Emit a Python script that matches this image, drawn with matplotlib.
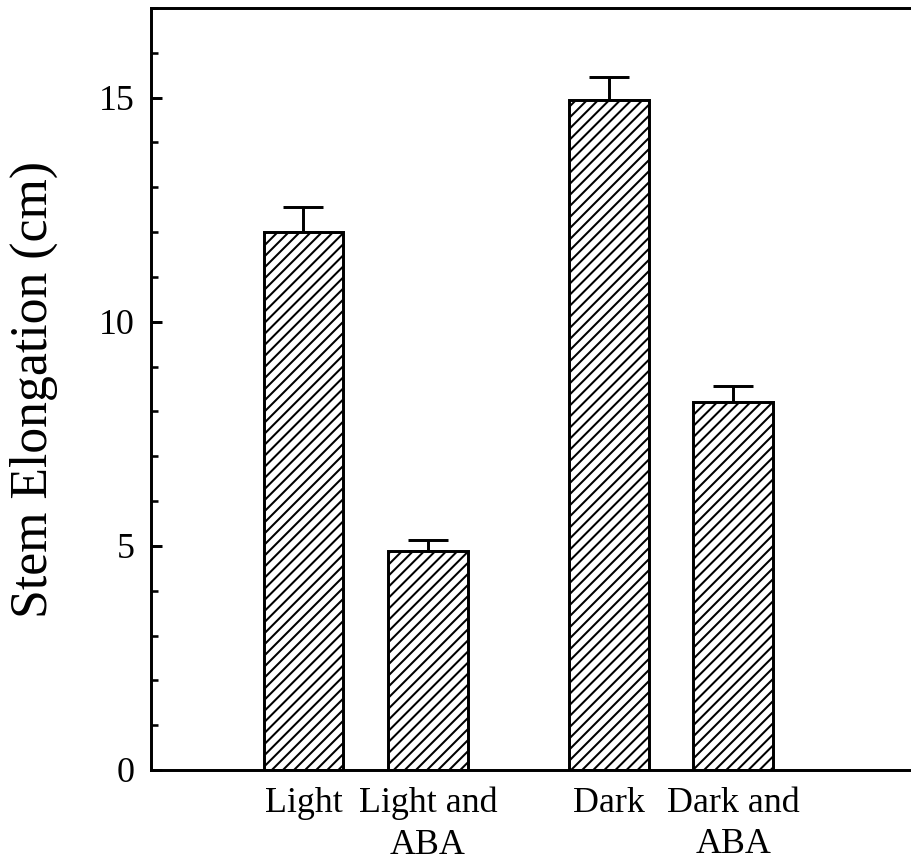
import matplotlib
matplotlib.use("Agg")
import matplotlib.pyplot as plt
from matplotlib.ticker import MultipleLocator

# data
labels = ["Light", "Light and\nABA", "Dark", "Dark and\nABA"]
values = [12.0, 4.88, 14.95, 8.2]
errors = [0.55, 0.25, 0.5, 0.36]
positions = [1, 2, 3.45, 4.45]

DPI = 133
plt.rcParams["font.family"] = ["Liberation Serif", "DejaVu Serif"]
plt.rcParams["hatch.linewidth"] = 1.1

fig = plt.figure(figsize=(911 / DPI, 867 / DPI), dpi=DPI)
ax = fig.add_axes([151 / 911, 1 - 770 / 867, 1 - 151 / 911 + 0.01, (770 - 8) / 867])

ax.bar(positions, values, width=0.64, color="white", edgecolor="black",
       linewidth=1.6, hatch="////", zorder=2)
ax.errorbar(positions, values, yerr=[[0] * len(errors), errors], fmt="none",
            ecolor="black", elinewidth=1.6, capsize=11, capthick=1.6, zorder=1)

ax.set_ylim(0, 17)
ax.set_xlim(-0.224, 5.95)
ax.yaxis.set_major_locator(MultipleLocator(5))
ax.yaxis.set_minor_locator(MultipleLocator(1))
ax.tick_params(axis="y", which="major", direction="in", length=6, width=1.6,
               labelsize=19.5, pad=9)
ax.tick_params(axis="y", which="minor", direction="in", length=4, width=1.4)
ax.set_xticks(positions)
ax.set_xticklabels(labels, linespacing=1.35)
ax.tick_params(axis="x", length=0, labelsize=19.5, pad=9)

for s in ["left", "bottom", "top"]:
    ax.spines[s].set_linewidth(1.6)
ax.spines["right"].set_visible(False)

ax.set_ylabel("Stem Elongation (cm)", fontsize=28, labelpad=22)

fig.savefig("out.png", dpi=DPI)
